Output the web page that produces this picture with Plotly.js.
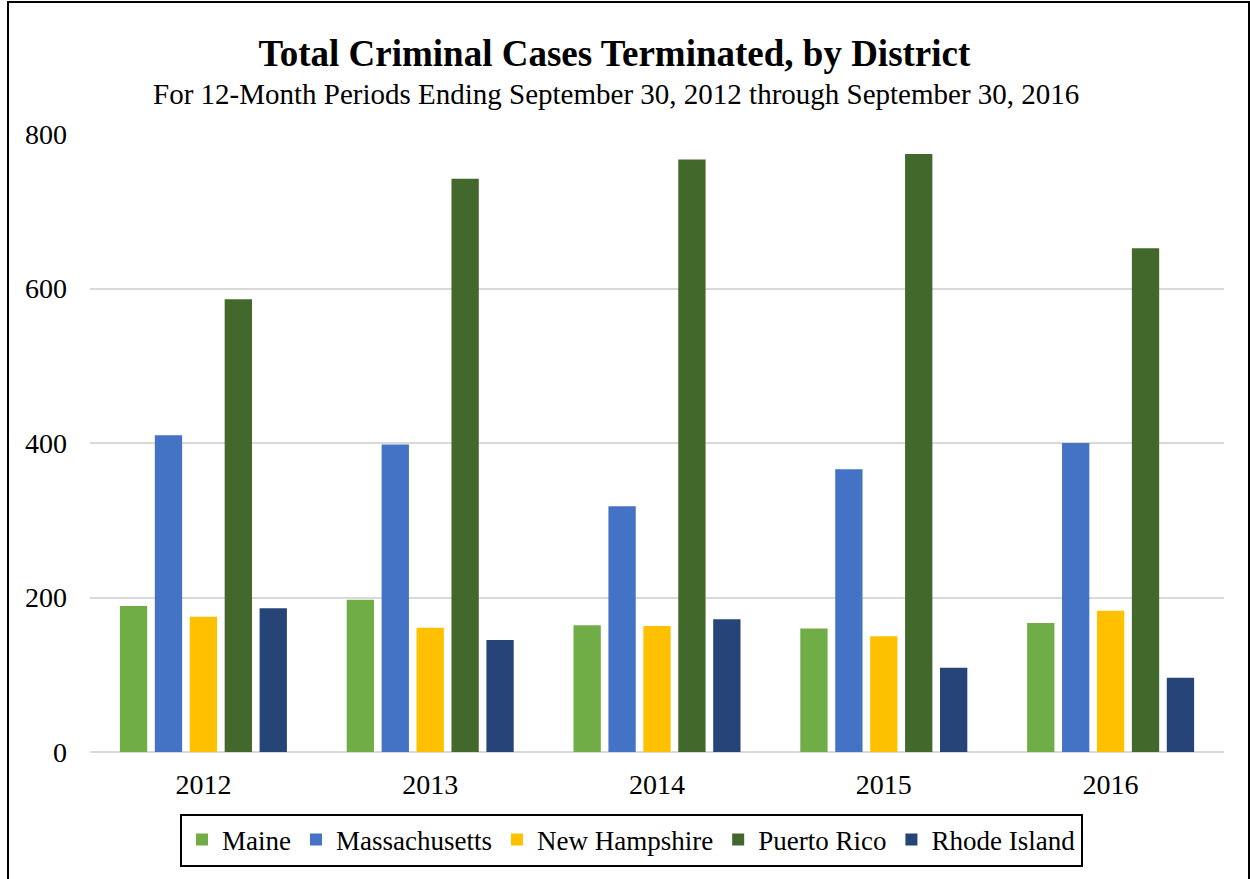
<!DOCTYPE html>
<html>
<head>
<meta charset="utf-8">
<script src="https://cdn.plot.ly/plotly-3.0.1.min.js"></script>
<style>
  body { margin: 0; background: #fff; }
  #chart { width: 1250px; height: 879px; }
  #frame { position: absolute; left: 7px; top: 1px; width: 1239px; height: 900px;
           border: 2px solid #000; pointer-events: none; }
</style>
</head>
<body>
<div id="chart"></div>
<div id="frame"></div>
<script>
// Data
const years = ['2012', '2013', '2014', '2015', '2016'];
const maine = [189, 197, 164, 160, 167];
const massachusetts = [410, 398, 318, 366, 400];
const newHampshire = [175, 161, 163, 150, 183];
const puertoRico = [586, 742, 767, 774, 652];
const rhodeIsland = [186, 145, 172, 109, 96];

const seriesNames = ['Maine', 'Massachusetts', 'New Hampshire', 'Puerto Rico', 'Rhode Island'];
const seriesValues = [maine, massachusetts, newHampshire, puertoRico, rhodeIsland];
const seriesColors = ['#70ad47', '#4472c4', '#ffc000', '#43682b', '#264478'];

const font = 'Liberation Serif, Times New Roman, serif';

const traces = seriesNames.map((name, i) => ({
    type: 'bar',
    name: name,
    x: years,
    y: seriesValues[i],
    marker: { color: seriesColors[i] },
    hoverinfo: 'x+y+name'
}));

const layout = {
    width: 1250,
    height: 879,
    paper_bgcolor: '#fff',
    plot_bgcolor: '#fff',
    margin: { l: 90, r: 26, t: 134, b: 127 },
    font: { family: font, color: '#000', size: 28 },
    barmode: 'group',
    bargap: 0.23,
    bargroupgap: 0.218,
    title: {
        text: '<b>Total Criminal Cases Terminated, by District</b>',
        font: { family: font, size: 37, color: '#000' },
        x: 0.4915, xanchor: 'center',
        yref: 'container', y: 1 - 53 / 879, yanchor: 'middle'
    },
    annotations: [{
        text: 'For 12-Month Periods Ending September 30, 2012 through September 30, 2016',
        xref: 'paper', yref: 'paper',
        x: 0.464, y: (752 - 94) / 618,
        xanchor: 'center', yanchor: 'middle',
        showarrow: false,
        font: { family: font, size: 29, color: '#000' }
    }],
    xaxis: {
        type: 'category',
        showgrid: false,
        showline: false,
        ticks: '',
        ticklabelstandoff: 13,
        tickfont: { family: font, size: 28 }
    },
    yaxis: {
        range: [0, 800],
        tickvals: [0, 200, 400, 600, 800],
        gridcolor: '#d9d9d9',
        gridwidth: 2,
        zeroline: true,
        zerolinecolor: '#d9d9d9',
        zerolinewidth: 2,
        showline: false,
        ticks: '',
        ticklabelstandoff: 22,
        tickfont: { family: font, size: 28 }
    },
    legend: {
        orientation: 'h',
        xref: 'paper', yref: 'paper',
        x: 0.4775, xanchor: 'center',
        y: (752 - 840) / 618, yanchor: 'middle',
        bordercolor: '#000',
        borderwidth: 2,
        font: { family: font, size: 27 },
        itemwidth: 30,
        traceorder: 'normal'
    },
    showlegend: true
};

Plotly.newPlot('chart', traces, layout, { displayModeBar: false });
</script>
</body>
</html>
